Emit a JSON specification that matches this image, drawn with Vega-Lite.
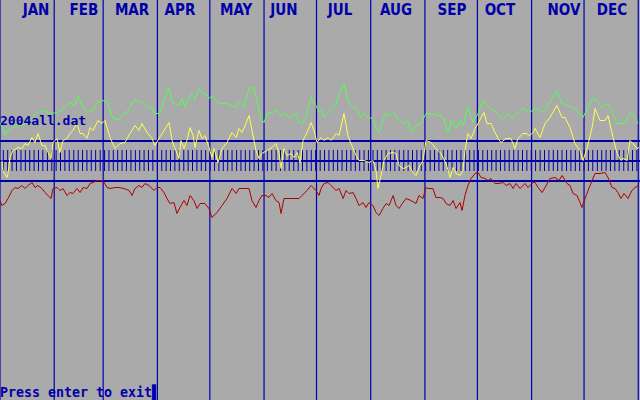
{
  "$schema": "https://vega.github.io/schema/vega-lite/v6.json",
  "width": 640,
  "height": 400,
  "autosize": {"type": "none"},
  "padding": 0,
  "background": "#aaaaaa",
  "config": {"view": {"stroke": null}},
  "datasets": {
    "months": [
      {"m": "JAN", "start": 0, "lx": 20.6}, {"m": "FEB", "start": 31, "lx": 48.0}, {"m": "MAR", "start": 59, "lx": 75.5},
      {"m": "APR", "start": 90, "lx": 102.9}, {"m": "MAY", "start": 120, "lx": 135.0}, {"m": "JUN", "start": 151, "lx": 162.4},
      {"m": "JUL", "start": 181, "lx": 194.4}, {"m": "AUG", "start": 212, "lx": 226.5}, {"m": "SEP", "start": 243, "lx": 258.5},
      {"m": "OCT", "start": 273, "lx": 285.9}, {"m": "NOV", "start": 304, "lx": 322.5}, {"m": "DEC", "start": 334, "lx": 350.0},
      {"m": "", "start": 365, "lx": null}
    ],
    "levels": [{"v": 259}, {"v": 239}, {"v": 219}],
    "ticks": [
      {"d":1.9},{"d":4.4},{"d":6.9},{"d":9.4},{"d":12.0},{"d":14.5},{"d":17.0},{"d":19.5},{"d":22.0},{"d":24.5},
      {"d":27.1},{"d":29.6},{"d":32.1},{"d":34.6},{"d":37.1},{"d":39.6},{"d":42.2},{"d":44.7},{"d":47.2},{"d":49.7},
      {"d":52.2},{"d":54.7},{"d":57.3},{"d":59.8},{"d":62.3},{"d":64.8},{"d":67.3},{"d":69.8},{"d":72.3},{"d":74.9},
      {"d":77.4},{"d":79.9},{"d":82.4},{"d":84.9},{"d":87.4},{"d":90.0},{"d":92.5},{"d":95.0},{"d":97.5},{"d":100.0},
      {"d":102.5},{"d":105.1},{"d":107.6},{"d":110.1},{"d":112.6},{"d":115.1},{"d":117.6},{"d":120.2},{"d":122.7},{"d":125.2},
      {"d":127.7},{"d":130.2},{"d":132.7},{"d":135.3},{"d":137.8},{"d":140.3},{"d":142.8},{"d":145.3},{"d":147.8},{"d":150.3},
      {"d":152.9},{"d":155.4},{"d":157.9},{"d":160.4},{"d":162.9},{"d":165.4},{"d":168.0},{"d":170.5},{"d":173.0},{"d":175.5},
      {"d":178.0},{"d":180.5},{"d":183.1},{"d":185.6},{"d":188.1},{"d":190.6},{"d":193.1},{"d":195.6},{"d":198.2},{"d":200.7},
      {"d":203.2},{"d":205.7},{"d":208.2},{"d":210.7},{"d":213.3},{"d":215.8},{"d":218.3},{"d":220.8},{"d":223.3},{"d":225.8},
      {"d":228.3},{"d":230.9},{"d":233.4},{"d":235.9},{"d":238.4},{"d":240.9},{"d":243.4},{"d":246.0},{"d":248.5},{"d":251.0},
      {"d":253.5},{"d":256.0},{"d":258.5},{"d":261.1},{"d":263.6},{"d":266.1},{"d":268.6},{"d":271.1},{"d":273.6},{"d":276.1},
      {"d":278.7},{"d":281.2},{"d":283.7},{"d":286.2},{"d":288.7},{"d":291.2},{"d":293.8},{"d":296.3},{"d":298.8},{"d":301.3},
      {"d":303.8},{"d":306.3},{"d":308.9},{"d":311.4},{"d":313.9},{"d":316.4},{"d":318.9},{"d":321.4},{"d":324.0},{"d":326.5},
      {"d":329.0},{"d":331.5},{"d":334.0},{"d":336.5},{"d":339.0},{"d":341.6},{"d":344.1},{"d":346.6},{"d":349.1},{"d":351.6},
      {"d":354.1},{"d":356.7},{"d":359.2},{"d":361.7},{"d":364.2}
    ],
    "high": [
      {"d":0,"v":278},{"d":2.9,"v":265},{"d":4.6,"v":270},{"d":7.4,"v":273},{"d":11.4,"v":275},{"d":15.4,"v":277},{"d":21.2,"v":288},{"d":24.6,"v":290},{"d":28.6,"v":287},{"d":33.2,"v":288},
      {"d":37.2,"v":293},{"d":40.0,"v":298},{"d":42.9,"v":295},{"d":44.6,"v":305},{"d":47.5,"v":293},{"d":49.8,"v":288},{"d":53.2,"v":290},{"d":56.0,"v":298},{"d":58.3,"v":300},{"d":61.2,"v":299},
      {"d":64.6,"v":282},{"d":68.1,"v":281},{"d":70.9,"v":287},{"d":72.6,"v":288},{"d":75.5,"v":298},{"d":77.2,"v":300},{"d":80.1,"v":299},{"d":82.9,"v":297},{"d":85.2,"v":292},{"d":86.9,"v":294},
      {"d":88.6,"v":287},{"d":91.5,"v":287},{"d":93.8,"v":300},{"d":96.7,"v":313},{"d":98.4,"v":298},{"d":100.1,"v":297},{"d":102.4,"v":295},{"d":104.1,"v":302},{"d":105.8,"v":293},{"d":108.1,"v":302},
      {"d":109.8,"v":307},{"d":111.5,"v":302},{"d":113.8,"v":312},{"d":115.5,"v":308},{"d":117.2,"v":307},{"d":119.5,"v":302},{"d":121.2,"v":305},{"d":122.4,"v":302},{"d":125.2,"v":297},{"d":129.2,"v":297},
      {"d":132.1,"v":295},{"d":135.0,"v":293},{"d":136.7,"v":298},{"d":139.5,"v":293},{"d":142.4,"v":313},{"d":145.3,"v":312},{"d":149.3,"v":282},{"d":151.0,"v":278},{"d":152.7,"v":287},{"d":155.6,"v":288},
      {"d":157.8,"v":290},{"d":160.7,"v":285},{"d":162.4,"v":287},{"d":165.3,"v":283},{"d":169.3,"v":287},{"d":171.0,"v":278},{"d":172.7,"v":277},{"d":175.0,"v":283},{"d":177.9,"v":303},{"d":180.7,"v":295},
      {"d":182.4,"v":288},{"d":183.6,"v":290},{"d":185.3,"v":283},{"d":187.6,"v":287},{"d":190.4,"v":293},{"d":192.2,"v":295},{"d":193.9,"v":307},{"d":196.7,"v":317},{"d":199.0,"v":300},{"d":201.9,"v":293},
      {"d":203.6,"v":293},{"d":206.5,"v":283},{"d":208.2,"v":287},{"d":210.5,"v":283},{"d":213.3,"v":282},{"d":215.0,"v":273},{"d":216.8,"v":268},{"d":219.0,"v":280},{"d":220.8,"v":287},{"d":222.5,"v":285},
      {"d":225.3,"v":288},{"d":228.2,"v":280},{"d":231.0,"v":277},{"d":233.3,"v":280},{"d":235.0,"v":268},{"d":237.9,"v":275},{"d":240.8,"v":277},{"d":243.6,"v":287},{"d":244.8,"v":287},{"d":250.5,"v":285},
      {"d":253.4,"v":283},{"d":256.2,"v":268},{"d":257.9,"v":280},{"d":260.8,"v":272},{"d":263.1,"v":280},{"d":264.8,"v":275},{"d":267.6,"v":293},{"d":270.5,"v":278},{"d":273.4,"v":287},{"d":276.2,"v":300},
      {"d":280.2,"v":292},{"d":283.1,"v":290},{"d":286.0,"v":283},{"d":287.7,"v":282},{"d":290.5,"v":287},{"d":293.4,"v":282},{"d":296.2,"v":288},{"d":299.1,"v":292},{"d":302.0,"v":288},{"d":304.8,"v":290},
      {"d":306.0,"v":293},{"d":310.0,"v":288},{"d":312.8,"v":293},{"d":315.7,"v":302},{"d":318.5,"v":310},{"d":321.4,"v":297},{"d":324.8,"v":295},{"d":328.8,"v":292},{"d":333.4,"v":283},{"d":338.6,"v":302},
      {"d":341.4,"v":300},{"d":344.3,"v":293},{"d":347.1,"v":297},{"d":350.0,"v":290},{"d":352.9,"v":277},{"d":357.4,"v":277},{"d":360.3,"v":288},{"d":363.2,"v":283},{"d":364.9,"v":277}
    ],
    "mid": [
      {"d":1.1,"v":240},{"d":1.7,"v":230},{"d":4.0,"v":223},{"d":4.6,"v":227},{"d":5.7,"v":243},{"d":7.4,"v":250},{"d":10.3,"v":253},{"d":12.6,"v":252},{"d":14.3,"v":257},{"d":16.0,"v":255},
      {"d":18.3,"v":263},{"d":20.0,"v":258},{"d":21.7,"v":267},{"d":24.0,"v":255},{"d":25.7,"v":255},{"d":27.5,"v":248},{"d":29.2,"v":242},{"d":30.3,"v":258},{"d":32.6,"v":262},{"d":34.3,"v":248},
      {"d":36.0,"v":260},{"d":38.3,"v":262},{"d":40.0,"v":267},{"d":41.7,"v":270},{"d":44.0,"v":277},{"d":45.8,"v":267},{"d":47.5,"v":267},{"d":49.8,"v":262},{"d":51.5,"v":273},{"d":53.2,"v":270},
      {"d":56.0,"v":280},{"d":58.3,"v":277},{"d":60.0,"v":280},{"d":61.2,"v":273},{"d":62.9,"v":263},{"d":65.8,"v":252},{"d":68.6,"v":257},{"d":71.5,"v":258},{"d":74.3,"v":267},{"d":77.2,"v":275},
      {"d":79.5,"v":270},{"d":81.2,"v":277},{"d":84.1,"v":268},{"d":86.9,"v":262},{"d":88.6,"v":255},{"d":90.9,"v":262},{"d":93.8,"v":270},{"d":96.7,"v":278},{"d":98.4,"v":260},{"d":100.1,"v":252},
      {"d":102.4,"v":242},{"d":103.5,"v":260},{"d":105.2,"v":252},{"d":106.9,"v":260},{"d":108.7,"v":273},{"d":110.4,"v":265},{"d":111.5,"v":253},{"d":113.8,"v":270},{"d":115.5,"v":262},{"d":117.2,"v":265},
      {"d":119.5,"v":253},{"d":121.2,"v":243},{"d":122.4,"v":252},{"d":124.7,"v":238},{"d":127.0,"v":252},{"d":129.8,"v":258},{"d":132.7,"v":268},{"d":135.0,"v":263},{"d":136.7,"v":272},{"d":138.4,"v":268},
      {"d":140.7,"v":277},{"d":142.4,"v":285},{"d":144.1,"v":270},{"d":146.4,"v":250},{"d":148.1,"v":242},{"d":149.8,"v":247},{"d":152.7,"v":250},{"d":155.6,"v":253},{"d":157.8,"v":257},{"d":159.6,"v":247},
      {"d":160.7,"v":232},{"d":162.4,"v":252},{"d":164.1,"v":245},{"d":166.4,"v":247},{"d":168.1,"v":243},{"d":169.9,"v":248},{"d":171.6,"v":238},{"d":173.3,"v":260},{"d":175.6,"v":268},{"d":177.9,"v":278},
      {"d":179.6,"v":270},{"d":181.3,"v":258},{"d":183.6,"v":263},{"d":185.3,"v":260},{"d":187.6,"v":263},{"d":189.3,"v":260},{"d":192.2,"v":267},{"d":193.9,"v":265},{"d":196.7,"v":287},{"d":199.0,"v":265},
      {"d":200.7,"v":257},{"d":203.6,"v":245},{"d":205.3,"v":240},{"d":208.2,"v":240},{"d":211.0,"v":238},{"d":213.3,"v":240},{"d":215.0,"v":230},{"d":216.2,"v":212},{"d":217.9,"v":225},{"d":219.6,"v":240},
      {"d":221.9,"v":247},{"d":224.8,"v":248},{"d":226.5,"v":247},{"d":228.2,"v":235},{"d":230.5,"v":232},{"d":232.2,"v":233},{"d":233.9,"v":235},{"d":236.2,"v":228},{"d":237.9,"v":225},{"d":239.6,"v":233},
      {"d":241.9,"v":240},{"d":243.6,"v":260},{"d":246.5,"v":258},{"d":249.3,"v":252},{"d":252.2,"v":247},{"d":255.1,"v":237},{"d":257.4,"v":223},{"d":259.1,"v":233},{"d":260.8,"v":227},{"d":263.1,"v":225},
      {"d":264.8,"v":230},{"d":265.9,"v":250},{"d":267.6,"v":267},{"d":269.4,"v":262},{"d":271.7,"v":272},{"d":273.4,"v":277},{"d":275.1,"v":283},{"d":276.8,"v":288},{"d":278.5,"v":277},{"d":280.8,"v":277},
      {"d":283.1,"v":268},{"d":284.8,"v":262},{"d":286.5,"v":258},{"d":289.4,"v":262},{"d":292.2,"v":262},{"d":294.5,"v":252},{"d":296.2,"v":262},{"d":299.1,"v":267},{"d":300.8,"v":267},{"d":303.1,"v":265},
      {"d":304.8,"v":268},{"d":306.0,"v":272},{"d":308.8,"v":263},{"d":311.7,"v":277},{"d":314.5,"v":283},{"d":318.5,"v":295},{"d":321.4,"v":283},{"d":323.1,"v":283},{"d":326.0,"v":273},{"d":328.8,"v":257},
      {"d":331.7,"v":250},{"d":333.4,"v":240},{"d":335.7,"v":252},{"d":338.6,"v":273},{"d":340.3,"v":292},{"d":343.1,"v":280},{"d":346.0,"v":280},{"d":347.7,"v":285},{"d":350.6,"v":263},{"d":352.9,"v":247},
      {"d":355.1,"v":240},{"d":356.3,"v":242},{"d":358.6,"v":240},{"d":360.3,"v":260},{"d":362.0,"v":257},{"d":364.3,"v":252},{"d":365.4,"v":253}
    ],
    "low": [
      {"d":0,"v":200},{"d":1.1,"v":195},{"d":2.9,"v":197},{"d":4.6,"v":202},{"d":6.9,"v":210},{"d":8.6,"v":213},{"d":10.3,"v":212},{"d":12.6,"v":215},{"d":14.3,"v":212},{"d":16.0,"v":215},
      {"d":18.3,"v":218},{"d":20.0,"v":213},{"d":21.7,"v":215},{"d":24.0,"v":212},{"d":25.7,"v":208},{"d":27.5,"v":205},{"d":29.2,"v":202},{"d":30.3,"v":212},{"d":32.6,"v":213},{"d":34.3,"v":210},
      {"d":36.0,"v":212},{"d":38.3,"v":205},{"d":40.0,"v":208},{"d":41.7,"v":207},{"d":44.0,"v":212},{"d":45.8,"v":208},{"d":47.5,"v":213},{"d":49.8,"v":212},{"d":51.5,"v":217},{"d":53.2,"v":218},
      {"d":55.5,"v":220},{"d":57.2,"v":220},{"d":58.9,"v":220},{"d":61.2,"v":213},{"d":62.9,"v":212},{"d":65.8,"v":213},{"d":68.1,"v":213},{"d":70.9,"v":212},{"d":73.8,"v":210},{"d":75.5,"v":205},
      {"d":77.2,"v":212},{"d":79.5,"v":215},{"d":81.2,"v":213},{"d":82.9,"v":217},{"d":85.2,"v":215},{"d":88.1,"v":210},{"d":89.8,"v":213},{"d":91.5,"v":213},{"d":93.8,"v":208},{"d":95.5,"v":202},
      {"d":97.2,"v":197},{"d":99.5,"v":198},{"d":101.2,"v":187},{"d":102.9,"v":193},{"d":105.2,"v":200},{"d":106.9,"v":195},{"d":108.7,"v":205},{"d":110.9,"v":200},{"d":112.7,"v":192},{"d":114.4,"v":197},
      {"d":117.2,"v":197},{"d":119.5,"v":192},{"d":121.2,"v":183},{"d":124.1,"v":188},{"d":127.0,"v":195},{"d":129.8,"v":202},{"d":132.7,"v":212},{"d":135.0,"v":207},{"d":136.7,"v":212},{"d":140.7,"v":212},
      {"d":142.4,"v":212},{"d":144.1,"v":200},{"d":146.4,"v":193},{"d":148.1,"v":200},{"d":149.8,"v":205},{"d":152.1,"v":205},{"d":153.8,"v":203},{"d":155.6,"v":207},{"d":157.8,"v":200},{"d":159.6,"v":198},
      {"d":160.7,"v":187},{"d":162.4,"v":202},{"d":165.3,"v":202},{"d":168.1,"v":202},{"d":171.0,"v":202},{"d":172.7,"v":205},{"d":175.6,"v":210},{"d":177.9,"v":215},{"d":180.7,"v":210},{"d":182.4,"v":205},
      {"d":183.6,"v":212},{"d":185.3,"v":217},{"d":187.6,"v":218},{"d":189.3,"v":215},{"d":192.2,"v":210},{"d":193.9,"v":212},{"d":196.2,"v":202},{"d":197.9,"v":210},{"d":199.6,"v":207},{"d":201.9,"v":208},
      {"d":203.6,"v":202},{"d":205.3,"v":195},{"d":207.6,"v":198},{"d":209.3,"v":193},{"d":211.0,"v":198},{"d":213.3,"v":195},{"d":215.0,"v":188},{"d":216.8,"v":185},{"d":219.0,"v":192},{"d":220.8,"v":197},
      {"d":222.5,"v":195},{"d":224.8,"v":205},{"d":226.5,"v":195},{"d":228.2,"v":192},{"d":230.5,"v":198},{"d":232.2,"v":202},{"d":235.0,"v":200},{"d":237.9,"v":197},{"d":239.6,"v":205},{"d":241.9,"v":202},
      {"d":243.6,"v":213},{"d":244.8,"v":212},{"d":247.6,"v":212},{"d":249.3,"v":203},{"d":251.6,"v":203},{"d":253.4,"v":202},{"d":255.1,"v":197},{"d":257.4,"v":195},{"d":259.1,"v":200},{"d":260.8,"v":192},
      {"d":263.1,"v":198},{"d":264.2,"v":190},{"d":265.9,"v":205},{"d":267.6,"v":215},{"d":269.4,"v":222},{"d":271.7,"v":227},{"d":273.4,"v":228},{"d":275.1,"v":223},{"d":277.4,"v":222},{"d":279.1,"v":220},
      {"d":280.8,"v":222},{"d":283.1,"v":217},{"d":284.8,"v":217},{"d":287.7,"v":218},{"d":289.4,"v":215},{"d":291.7,"v":217},{"d":293.4,"v":212},{"d":295.1,"v":217},{"d":297.4,"v":212},{"d":300.2,"v":217},
      {"d":302.0,"v":213},{"d":304.8,"v":218},{"d":306.0,"v":218},{"d":307.7,"v":213},{"d":310.0,"v":208},{"d":311.7,"v":213},{"d":314.5,"v":222},{"d":317.4,"v":223},{"d":319.7,"v":220},{"d":321.4,"v":225},
      {"d":324.3,"v":217},{"d":326.0,"v":215},{"d":327.7,"v":207},{"d":330.0,"v":205},{"d":331.7,"v":198},{"d":332.8,"v":193},{"d":334.6,"v":202},{"d":336.3,"v":210},{"d":338.6,"v":220},{"d":340.3,"v":227},
      {"d":343.1,"v":227},{"d":346.0,"v":228},{"d":347.7,"v":223},{"d":350.0,"v":213},{"d":351.7,"v":212},{"d":353.4,"v":208},{"d":355.1,"v":202},{"d":356.9,"v":207},{"d":359.1,"v":202},{"d":361.4,"v":210},
      {"d":363.2,"v":213},{"d":365.4,"v":215}
    ]
  },
  "layer": [
    {
      "data": {"name": "months"},
      "mark": {"type": "rule", "color": "#0000b4", "strokeWidth": 1.2},
      "encoding": {
        "x": {"field": "start", "type": "quantitative", "scale": {"domain": [0, 366], "nice": false, "zero": false}, "axis": null}
      }
    },
    {
      "data": {"name": "levels"},
      "mark": {"type": "rule", "color": "#0000aa", "strokeWidth": 2},
      "encoding": {
        "y": {"field": "v", "type": "quantitative", "scale": {"domain": [0, 400], "nice": false, "zero": false, "round": true}, "axis": null}
      }
    },
    {
      "data": {"name": "ticks"},
      "mark": {"type": "rule", "color": "#0000aa", "strokeWidth": 1},
      "encoding": {
        "x": {"field": "d", "type": "quantitative"},
        "y": {"datum": 250, "type": "quantitative"},
        "y2": {"datum": 229}
      }
    },
    {
      "data": {"name": "mid"},
      "mark": {"type": "line", "color": "#ffff55", "strokeWidth": 1, "yOffset": 0.5},
      "encoding": {
        "x": {"field": "d", "type": "quantitative"},
        "y": {"field": "v", "type": "quantitative"}
      }
    },
    {
      "data": {"name": "high"},
      "mark": {"type": "line", "color": "#55ff55", "strokeWidth": 1, "yOffset": 0.5},
      "encoding": {
        "x": {"field": "d", "type": "quantitative"},
        "y": {"field": "v", "type": "quantitative"}
      }
    },
    {
      "data": {"name": "low"},
      "mark": {"type": "line", "color": "#aa0000", "strokeWidth": 1, "yOffset": 0.5},
      "encoding": {
        "x": {"field": "d", "type": "quantitative"},
        "y": {"field": "v", "type": "quantitative"}
      }
    },
    {
      "data": {"name": "months"},
      "transform": [{"filter": "datum.m != ''"}],
      "mark": {"type": "text", "color": "#0000aa", "font": "Liberation Sans Narrow, DejaVu Sans Condensed, sans-serif", "fontWeight": "bold", "fontSize": 15, "align": "center", "baseline": "alphabetic"},
      "encoding": {
        "x": {"field": "lx", "type": "quantitative"},
        "y": {"datum": 385, "type": "quantitative"},
        "text": {"field": "m"}
      }
    },
    {
      "data": {"values": [{"t": "2004all.dat", "d": 0, "v": 275}]},
      "mark": {"type": "text", "color": "#0000aa", "font": "DejaVu Sans Mono", "fontWeight": "bold", "fontSize": 13, "align": "left", "baseline": "alphabetic"},
      "encoding": {
        "x": {"field": "d", "type": "quantitative"},
        "y": {"field": "v", "type": "quantitative"},
        "text": {"field": "t"}
      }
    },
    {
      "data": {"values": [{"t": "Press enter to exit▌", "d": 0, "v": 3.5}]},
      "mark": {"type": "text", "color": "#0000aa", "font": "DejaVu Sans Mono", "fontWeight": "bold", "fontSize": 13.3, "align": "left", "baseline": "alphabetic"},
      "encoding": {
        "x": {"field": "d", "type": "quantitative"},
        "y": {"field": "v", "type": "quantitative"},
        "text": {"field": "t"}
      }
    }
  ]
}
